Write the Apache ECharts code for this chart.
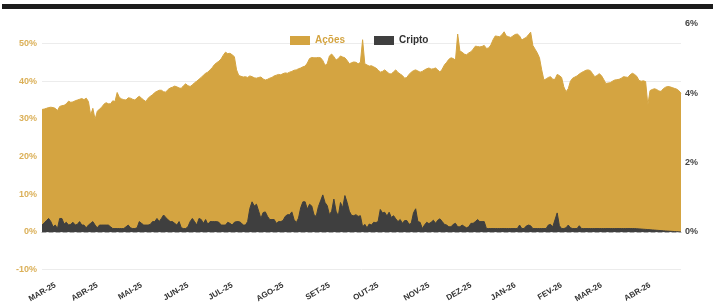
<!DOCTYPE html>
<html>
<head>
<meta charset="utf-8">
<script src="https://cdn.jsdelivr.net/npm/echarts@6/dist/echarts.min.js"></script>
<style>
  html, body { margin: 0; padding: 0; background: #fff; }
  #chart { width: 715px; height: 302px; }
</style>
</head>
<body>
<div id="chart"></div>
<script>
// pregões agrupados por mês (o primeiro bloco é o fim de fev/25)
const meses = ['FEV-25', 'MAR-25', 'ABR-25', 'MAI-25', 'JUN-25', 'JUL-25', 'AGO-25', 'SET-25',
  'OUT-25', 'NOV-25', 'DEZ-25', 'JAN-26', 'FEV-26', 'MAR-26', 'ABR-26'];

// % em ações (eixo da esquerda)
const acoes = [
  [32.5, 32.6, 32.8, 33.0, 33.1, 33.0],
  [32.8, 32.2, 33.3, 33.5, 33.6, 34.0, 34.7, 34.4, 34.5, 34.8, 35.0, 35.2, 35.4, 35.1, 35.5, 34.6, 31.0, 32.8, 29.9],
  [32.0, 32.6, 33.1, 33.9, 34.3, 34.0, 34.0, 34.8, 34.6, 37.0, 35.7, 35.3, 35.1, 35.0, 35.6, 35.5, 35.2, 35.0, 35.6, 36.0],
  [35.5, 35.0, 34.6, 35.5, 36.0, 36.4, 37.0, 37.3, 37.6, 37.6, 37.2, 37.1, 37.8, 38.2, 38.4, 38.7, 38.5, 38.2, 38.1, 38.8, 39.3],
  [38.8, 38.6, 39.0, 39.6, 40.0, 40.5, 41.0, 41.6, 42.1, 42.4, 43.0, 43.6, 44.4, 44.9, 45.3, 45.9, 46.9, 47.7, 47.3, 47.4],
  [47.0, 46.5, 43.0, 41.5, 41.3, 41.1, 41.2, 41.0, 41.4, 41.2, 40.9, 40.8, 41.0, 41.1, 40.6, 40.3, 40.5, 40.8, 41.0, 41.4, 41.6, 41.8, 41.7],
  [42.0, 42.2, 42.1, 42.4, 42.6, 42.9, 43.0, 43.3, 43.5, 43.8, 44.0, 44.8, 46.0, 46.3, 46.2, 46.2, 46.3, 46.2, 45.5, 44.2, 44.6],
  [46.7, 47.2, 46.5, 45.6, 46.0, 46.7, 46.4, 46.2, 45.5, 44.6, 44.9, 45.1, 45.0, 44.6, 45.0, 51.0, 44.6, 44.3, 44.0, 44.1, 43.8, 43.5],
  [43.0, 42.4, 42.6, 43.0, 42.5, 42.0, 41.9, 42.5, 43.0, 42.3, 41.9, 41.5, 40.8, 41.0, 41.8, 42.4, 42.8, 43.0, 42.7, 42.4, 42.6, 43.0, 43.3],
  [43.5, 43.2, 43.3, 43.5, 43.0, 42.4, 43.2, 44.3, 45.0, 45.8, 46.2, 46.0, 45.6, 52.5, 48.0, 47.7, 47.2, 47.0, 47.5],
  [47.8, 48.5, 49.3, 49.2, 49.1, 49.2, 49.5, 48.7, 48.8, 49.6, 51.0, 52.0, 51.9, 51.8, 52.3, 53.1, 52.0, 51.8, 51.6, 52.0],
  [52.4, 52.5, 52.0, 50.9, 51.3, 51.6, 52.3, 53.0, 49.5, 48.5, 47.5, 46.2, 43.0, 40.3, 40.6, 41.0, 41.2, 40.5, 40.5, 41.8, 41.5],
  [41.0, 38.5, 37.2, 38.0, 40.0, 40.8, 41.1, 41.4, 41.9, 42.3, 42.6, 42.9, 43.0, 42.8, 42.0, 41.2, 41.5, 42.0],
  [41.5, 40.5, 39.4, 39.5, 39.6, 40.0, 40.3, 40.4, 40.5, 40.8, 41.2, 41.1, 41.0, 41.7, 42.1, 41.8, 41.3, 40.2, 40.0, 40.1, 39.9, 33.7],
  [37.5, 37.8, 38.0, 37.8, 37.4, 37.3, 38.0, 38.4, 38.6, 38.5, 38.3, 38.1, 37.9, 37.5, 36.8]
];

// % em cripto (eixo da direita)
const cripto = [
  [0.2, 0.26, 0.33, 0.39, 0.30, 0.15],
  [0.2, 0.1, 0.39, 0.39, 0.23, 0.28, 0.2, 0.22, 0.28, 0.2, 0.22, 0.3, 0.2, 0.2, 0.12, 0.2, 0.25, 0.3, 0.2],
  [0.12, 0.2, 0.2, 0.2, 0.2, 0.2, 0.15, 0.1, 0.1, 0.1, 0.1, 0.1, 0.1, 0.15, 0.2, 0.12, 0.1, 0.1, 0.12, 0.3],
  [0.25, 0.2, 0.2, 0.2, 0.22, 0.3, 0.3, 0.39, 0.3, 0.39, 0.49, 0.42, 0.35, 0.3, 0.3, 0.25, 0.2, 0.3, 0.12, 0.1, 0.1],
  [0.15, 0.3, 0.39, 0.3, 0.2, 0.39, 0.36, 0.25, 0.36, 0.22, 0.3, 0.3, 0.3, 0.3, 0.28, 0.2, 0.2, 0.2, 0.28, 0.25],
  [0.2, 0.28, 0.3, 0.3, 0.27, 0.2, 0.2, 0.3, 0.68, 0.87, 0.75, 0.8, 0.6, 0.39, 0.56, 0.58, 0.45, 0.36, 0.36, 0.36, 0.25, 0.3, 0.3],
  [0.33, 0.45, 0.5, 0.5, 0.58, 0.36, 0.27, 0.4, 0.7, 0.87, 0.87, 0.66, 0.8, 0.75, 0.5, 0.45, 0.73, 0.9, 1.07, 0.85, 0.76],
  [0.5, 0.6, 0.95, 0.6, 0.46, 0.85, 0.7, 1.05, 0.85, 0.6, 0.48, 0.47, 0.5, 0.45, 0.47, 0.15, 0.22, 0.12, 0.23, 0.2, 0.28, 0.27],
  [0.3, 0.65, 0.55, 0.57, 0.46, 0.57, 0.42, 0.47, 0.38, 0.3, 0.36, 0.25, 0.33, 0.33, 0.22, 0.25, 0.55, 0.67, 0.3, 0.28, 0.1, 0.2, 0.28],
  [0.24, 0.28, 0.34, 0.25, 0.34, 0.38, 0.3, 0.22, 0.2, 0.15, 0.15, 0.22, 0.25, 0.15, 0.15, 0.2, 0.16, 0.12, 0.15],
  [0.25, 0.25, 0.3, 0.36, 0.3, 0.3, 0.3, 0.1, 0.1, 0.1, 0.1, 0.1, 0.1, 0.1, 0.1, 0.1, 0.1, 0.1, 0.1, 0.1],
  [0.1, 0.1, 0.2, 0.1, 0.1, 0.17, 0.2, 0.18, 0.1, 0.1, 0.1, 0.1, 0.1, 0.1, 0.1, 0.2, 0.22, 0.15, 0.35, 0.55, 0.18],
  [0.1, 0.1, 0.12, 0.2, 0.12, 0.1, 0.1, 0.1, 0.18, 0.1, 0.1, 0.1, 0.1, 0.1, 0.1, 0.1, 0.1, 0.1],
  [0.1, 0.1, 0.1, 0.1, 0.1, 0.1, 0.1, 0.1, 0.1, 0.1, 0.1, 0.1, 0.1, 0.1, 0.1, 0.1, 0.095, 0.09, 0.085, 0.08, 0.075, 0.07],
  [0.065, 0.06, 0.055, 0.05, 0.045, 0.04, 0.035, 0.03, 0.026, 0.022, 0.018, 0.014, 0.01, 0.005, 0]
];

const GOLD = '#d4a441';
const DARK = '#3f3f3f';

const categorias = [];
meses.forEach((m, i) => acoes[i].forEach((_, k) => categorias.push(m + '|' + k)));

const chart = echarts.init(document.getElementById('chart'));
chart.setOption({
  animation: false,
  textStyle: { fontFamily: 'Liberation Sans, Arial, sans-serif' },
  graphic: [{
    type: 'rect',
    shape: { x: 2, y: 4, width: 711, height: 5 },
    style: { fill: '#1c1c1c' }
  }],
  legend: {
    top: 35.5,
    left: 290,
    padding: 0,
    icon: 'rect',
    itemWidth: 20,
    itemHeight: 9,
    itemGap: 29,
    textStyle: { fontSize: 10, fontWeight: 'bold' },
    data: [
      { name: 'Ações', textStyle: { color: GOLD } },
      { name: 'Cripto', textStyle: { color: '#333' } }
    ]
  },
  grid: [
    { left: 42, right: 34, top: 24, bottom: 32.3, outerBoundsMode: 'none' },
    { left: 42, right: 34, top: 24, bottom: 70, outerBoundsMode: 'none' }
  ],
  xAxis: [
    {
      type: 'category',
      gridIndex: 0,
      data: categorias,
      boundaryGap: false,
      axisLine: { show: false, onZero: false },
      axisTick: { show: false },
      axisLabel: {
        rotate: 30,
        margin: 15,
        fontSize: 8,
        fontWeight: 'bold',
        color: '#333',
        interval: (idx, v) => idx > 0 && v.endsWith('|0'),
        formatter: v => v.split('|')[0]
      }
    },
    {
      type: 'category',
      gridIndex: 1,
      data: categorias,
      boundaryGap: false,
      z: 5,
      axisLine: { show: true, lineStyle: { color: '#a8a8a8', type: [4, 3], width: 1 } },
      axisTick: { show: false },
      axisLabel: { show: false }
    }
  ],
  yAxis: [
    {
      type: 'value',
      gridIndex: 0,
      min: -10,
      max: 55.17,
      interval: 10,
      axisLine: { show: false },
      axisTick: { show: false },
      splitLine: { showMaxLine: false, lineStyle: { color: '#ececec' } },
      axisLabel: {
        showMaxLabel: false,
        margin: 5,
        fontSize: 9,
        fontWeight: 'bold',
        color: '#dbb058',
        formatter: '{value}%'
      }
    },
    {
      type: 'value',
      gridIndex: 1,
      position: 'right',
      min: 0,
      max: 6,
      interval: 2,
      axisLine: { show: false },
      axisTick: { show: false },
      splitLine: { show: false },
      axisLabel: {
        margin: 4,
        fontSize: 9,
        fontWeight: 'bold',
        color: '#444',
        formatter: '{value}%'
      }
    }
  ],
  series: [
    {
      name: 'Ações',
      type: 'line',
      xAxisIndex: 0,
      yAxisIndex: 0,
      data: acoes.flat(),
      showSymbol: false,
      itemStyle: { color: GOLD },
      lineStyle: { color: GOLD, width: 1 },
      areaStyle: { color: GOLD, opacity: 1 }
    },
    {
      name: 'Cripto',
      type: 'line',
      xAxisIndex: 1,
      yAxisIndex: 1,
      data: cripto.flat(),
      showSymbol: false,
      itemStyle: { color: DARK },
      lineStyle: { color: DARK, width: 1 },
      areaStyle: { color: DARK, opacity: 1 }
    }
  ]
});
</script>
</body>
</html>
